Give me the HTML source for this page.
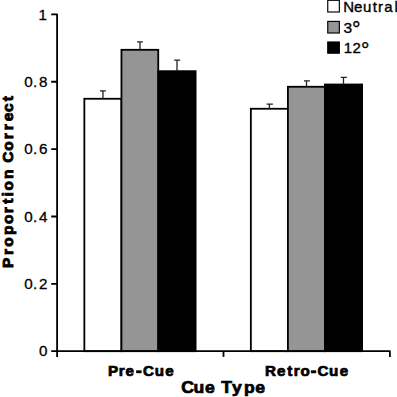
<!DOCTYPE html>
<html><head><meta charset="utf-8">
<style>
html,body{margin:0;padding:0;background:#fff;width:397px;height:397px;overflow:hidden}
svg{display:block}
text{font-family:"Liberation Sans",sans-serif;fill:#000}
.b{font-weight:bold}
</style></head>
<body>
<svg width="397" height="397" viewBox="0 0 397 397">
<rect x="0" y="0" width="397" height="397" fill="#fff"/>
<!-- bars pre-cue -->
<g stroke="#000" stroke-width="1.8">
<rect x="84.35" y="98.77" width="37.1" height="252.43" fill="#fff"/>
<rect x="121.45" y="49.8" width="36.8" height="301.4" fill="#959595"/>
<rect x="158.25" y="71.17" width="37.35" height="280.03" fill="#000"/>
<rect x="250.85" y="108.77" width="37.05" height="242.43" fill="#fff"/>
<rect x="287.9" y="86.77" width="37.0" height="264.43" fill="#959595"/>
<rect x="324.9" y="84.5" width="37.2" height="266.7" fill="#000"/>
</g>
<!-- error bars -->
<g stroke="#222" stroke-width="1.3" fill="none">
<path d="M102.96 98.77V90.84M100.0 90.84H105.9"/>
<path d="M139.97 49.8V41.97M137.0 41.97H142.9"/>
<path d="M177.0 71.17V60.04M174.2 60.04H180.2"/>
<path d="M269.4 108.77V104.05M266.6 104.05H272.9"/>
<path d="M306.5 86.77V80.86M304.0 80.86H309.9"/>
<path d="M343.5 84.5V77.36M340.8 77.36H346.9"/>
</g>
<!-- axes -->
<g stroke="#000" stroke-width="1.8" fill="none" stroke-linejoin="round">
<path d="M51.2 14.4H57.1V356.9"/>
<path d="M51.2 351.2H389.9V356.9"/>
<path d="M223.5 351.2V356.9"/>
<path d="M51.2 81.76H57.1M51.2 149.12H57.1M51.2 216.48H57.1M51.2 283.84H57.1"/>
</g>
<!-- y labels -->
<g font-size="15.2" stroke="#000" stroke-width="0.3">
<text x="38.42" y="19.55">1</text>
<text x="24.22 33.09 38.92" y="86.91">0.8</text>
<text x="24.22 33.09 38.92" y="154.27">0.6</text>
<text x="24.22 33.09 38.92" y="221.63">0.4</text>
<text x="24.22 33.09 38.92" y="288.99">0.2</text>
<text x="38.92" y="356.35">0</text>
</g>
<!-- y title -->
<g class="b" font-size="15.5" stroke="#000" stroke-width="0.9" transform="translate(12.65,0) rotate(-90)">
<text x="-267.92 -255.06 -246.83 -235.03 -223.88 -213.26 -203.63 -196.4 -190.43 -179.11" y="0">Proportion</text>
<text x="-162.7 -150.63 -139.26 -130.16 -121.3 -111.99 -101.13" y="0">Correct</text>
</g>
<!-- x labels -->
<text class="b" stroke="#000" stroke-width="0.7" font-size="13.8" transform="scale(1.1,1)" x="98.08 107.92 114.08 123.94 130.01 140.77 150.31" y="375.8">Pre-Cue</text>
<text class="b" stroke="#000" stroke-width="0.7" font-size="13.8" transform="scale(1.1,1)" x="241.02 251.86 261.07 267.15 273.24 282.66 288.74 299.13 308.9" y="375.8">Retro-Cue</text>
<text class="b" stroke="#000" stroke-width="0.7" font-size="16.0" transform="scale(1.1,1)" x="164.75 175.92 186.42 187.42 201.06 210.99 221.87 232.06" y="392.8">Cue Type</text>
<rect x="136.2" y="370.3" width="5.3" height="2.5" fill="#000"/>
<rect x="310.9" y="370.3" width="5.2" height="2.5" fill="#000"/>
<!-- legend -->
<g stroke="#000" stroke-width="1.15">
<rect x="327.75" y="0.3" width="11.6" height="11.7" fill="#fff"/>
<rect x="327.75" y="21.4" width="11.6" height="11.6" fill="#959595"/>
<rect x="327.75" y="42.0" width="11.6" height="11.2" fill="#000"/>
</g>
<g font-size="15" stroke="#000" stroke-width="0.35">
<text x="343.28 354.04 363.09 372.71 377.93 384.21 394.43" y="11.8">Neutral</text>
<text x="343.6" y="32.8" font-size="15.5">3<tspan x="351.96" y="36.53" font-size="21.25">°</tspan></text>
<text x="343.67 352.58" y="52.7">12<tspan x="361.0" y="57.29" font-size="21">°</tspan></text>
</g>
</svg>
</body></html>
